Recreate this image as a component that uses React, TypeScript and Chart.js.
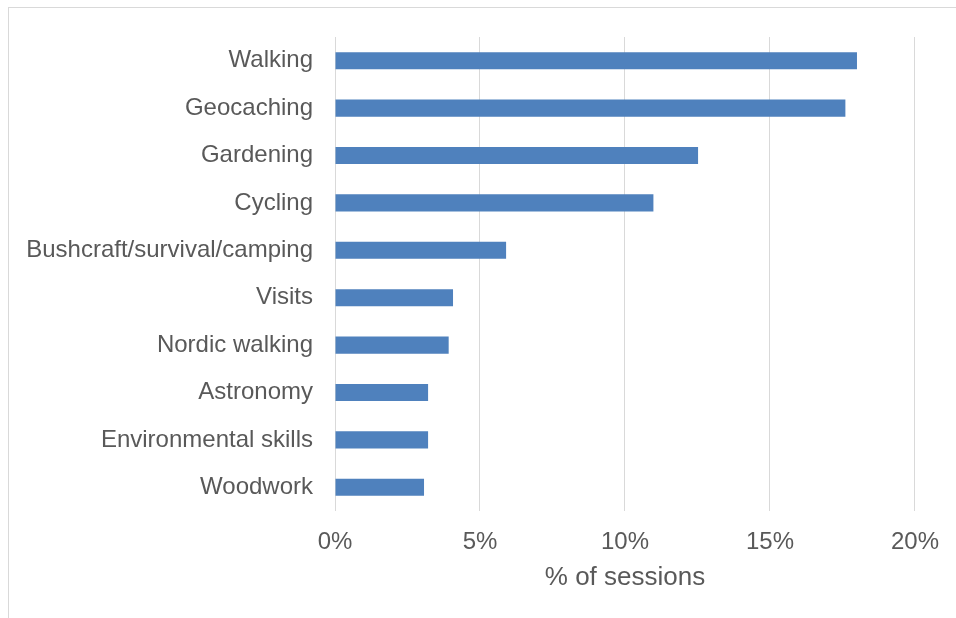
import React, { useEffect, useRef } from "react";
import { Chart, registerables } from "chart.js";

Chart.register(...registerables);

const categories = [
  "Walking",
  "Geocaching",
  "Gardening",
  "Cycling",
  "Bushcraft/survival/camping",
  "Visits",
  "Nordic walking",
  "Astronomy",
  "Environmental skills",
  "Woodwork",
];
const sessionShare = [18.0, 17.6, 12.52, 10.98, 5.9, 4.07, 3.92, 3.21, 3.21, 3.07];
const xTicks = [0, 5, 10, 15, 20];
const axisTitle = "% of sessions";

const FONT = "'Liberation Sans', Arial, Helvetica, sans-serif";
const TEXT = "#595959";
const GRID = "#d9d9d9";

export default function App() {
  const ref = useRef<HTMLCanvasElement | null>(null);
  useEffect(() => {
    if (!ref.current) return;
    const chart = new Chart(ref.current, {
      type: "bar",
      data: {
        labels: categories,
        datasets: [
          {
            data: sessionShare,
            backgroundColor: "#4f81bd",
            borderWidth: 0,
            categoryPercentage: 1,
            barPercentage: 0.36,
          },
        ],
      },
      options: {
        indexAxis: "y",
        animation: false,
        responsive: false,
        devicePixelRatio: 1,
        layout: { padding: { top: 37, right: 40, bottom: 0, left: 0 } },
        plugins: { legend: { display: false }, tooltip: { enabled: false } },
        scales: {
          x: {
            min: xTicks[0],
            max: xTicks[xTicks.length - 1],
            afterBuildTicks: (s: any) => {
              s.ticks = xTicks.map((v) => ({ value: v }));
            },
            afterFit: (s: any) => {
              s.height = 107;
            },
            grid: { color: GRID, lineWidth: 1, drawTicks: false },
            border: { display: false },
            ticks: {
              padding: 17,
              color: TEXT,
              font: { family: FONT, size: 24 },
              callback: (v: any) => v + "%",
            },
            title: {
              display: true,
              text: axisTitle,
              color: TEXT,
              font: { family: FONT, size: 26 },
              padding: { top: 0, bottom: 25 },
            },
          },
          y: {
            afterFit: (s: any) => {
              s.width = 335;
            },
            grid: { display: false, drawTicks: false },
            border: { display: false },
            ticks: {
              padding: 22,
              color: TEXT,
              font: { family: FONT, size: 24 },
            },
          },
        },
      },
    });
    return () => chart.destroy();
  }, []);
  return (
    <div style={{ position: "fixed", left: 0, top: 0, width: 956, height: 618, background: "#fff" }}>
      <div
        style={{
          position: "absolute",
          left: 8,
          top: 7,
          width: 948,
          height: 611,
          borderTop: "1px solid " + GRID,
          borderLeft: "1px solid " + GRID,
          boxSizing: "border-box",
        }}
      />
      <canvas ref={ref} width={956} height={618} style={{ position: "absolute", left: 0, top: 0 }} />
    </div>
  );
}
